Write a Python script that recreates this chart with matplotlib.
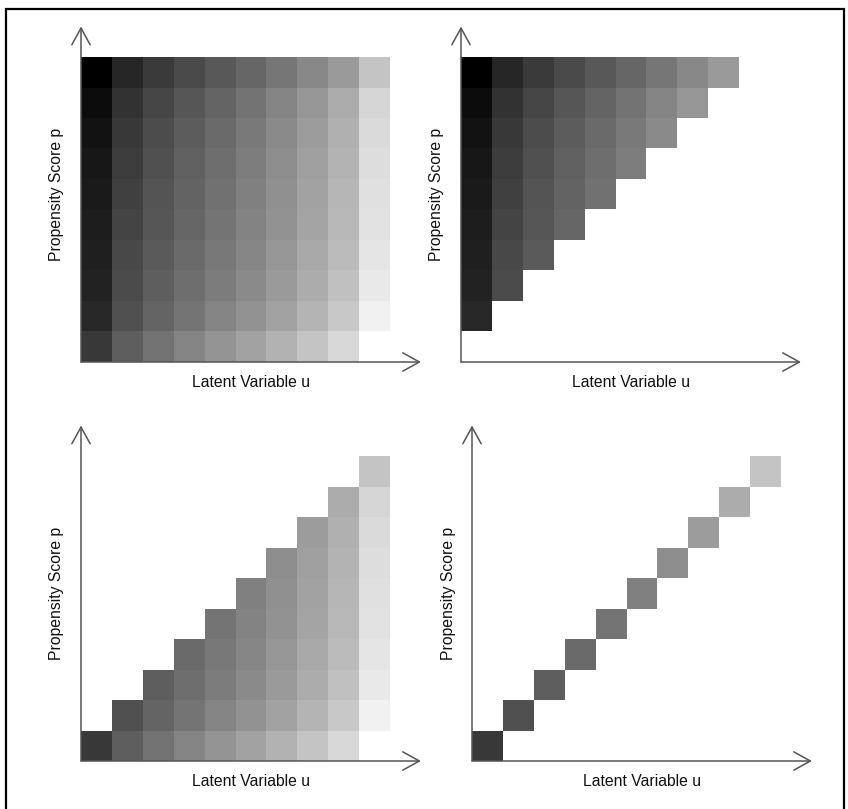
import numpy as np
import matplotlib
matplotlib.use('Agg')
import matplotlib.pyplot as plt
from matplotlib.patches import Rectangle

plt.rcParams['font.family'] = ['Liberation Sans', 'DejaVu Sans']

# grey level (0 = black, 255 = white) of every cell, rows read top -> bottom
grey_rows = [
    [0x00, 0x26, 0x3a, 0x4a, 0x58, 0x66, 0x76, 0x88, 0x9a, 0xc4],
    [0x0c, 0x32, 0x46, 0x56, 0x64, 0x73, 0x84, 0x96, 0xac, 0xd6],
    [0x12, 0x38, 0x4c, 0x5c, 0x6a, 0x79, 0x8a, 0x9c, 0xb0, 0xda],
    [0x17, 0x3c, 0x50, 0x60, 0x6e, 0x7d, 0x8d, 0x9f, 0xb3, 0xdd],
    [0x1a, 0x40, 0x54, 0x63, 0x71, 0x80, 0x90, 0xa2, 0xb6, 0xe0],
    [0x1d, 0x44, 0x56, 0x66, 0x74, 0x83, 0x92, 0xa4, 0xb8, 0xe2],
    [0x1f, 0x48, 0x5a, 0x6a, 0x78, 0x86, 0x96, 0xa8, 0xbb, 0xe5],
    [0x22, 0x4b, 0x5e, 0x6e, 0x7c, 0x8a, 0x9a, 0xac, 0xc0, 0xe9],
    [0x28, 0x50, 0x64, 0x74, 0x84, 0x92, 0xa2, 0xb4, 0xc8, 0xf1],
    [0x38, 0x5e, 0x72, 0x84, 0x94, 0xa2, 0xb2, 0xc4, 0xd8, 0xff],
]
x_label = "Latent Variable u"
y_label = "Propensity Score p"

grey = np.array(grey_rows[::-1], dtype=float)   # row 0 = bottom (low p)
n = grey.shape[0]
p_idx, u_idx = np.indices(grey.shape)

# which cells each panel keeps
panels = {
    'full':  np.ones_like(grey, dtype=bool),
    'upper': u_idx < p_idx,
    'lower': u_idx >= p_idx,
    'diag':  u_idx == p_idx,
}

W, H = 848, 809
fig = plt.figure(figsize=(W / 100, H / 100), dpi=100)

# frame around the whole picture
fig.patches.append(Rectangle((5.5 / W, -0.05), 838 / W, 1.05 - 9.5 / H,
                             transform=fig.transFigure, fill=False,
                             edgecolor='black', linewidth=1.6))

axw, axh = 340, 335.5
layout = [('full', 81, 447), ('upper', 461, 447),
          ('lower', 81, 48), ('diag', 472, 48)]

edges = np.arange(n + 1)
arrow_style = dict(arrowstyle='->,head_length=1.0,head_width=0.55',
                   mutation_scale=12, color='#555555', lw=1.1,
                   shrinkA=0, shrinkB=0)

for key, left, bottom in layout:
    ax = fig.add_axes([left / W, bottom / H, axw / W, axh / H])
    data = np.ma.masked_where(~panels[key], grey)
    ax.pcolormesh(edges, edges, data, cmap='gray', vmin=0, vmax=255,
                  shading='flat')
    ax.set_xlim(0, n + 1)
    ax.set_ylim(0, n + 1)
    ax.axis('off')
    ax.annotate('', xy=(n + 1, 0), xytext=(0, 0), arrowprops=arrow_style,
                annotation_clip=False)
    ax.annotate('', xy=(0, n + 1), xytext=(0, 0), arrowprops=arrow_style,
                annotation_clip=False)
    ax.text(0.5, -20.5 / axh, x_label, transform=ax.transAxes,
            ha='center', va='center', fontsize=11.3, color='#111111')
    ax.text(-24 / axw, 0.5, y_label, transform=ax.transAxes, rotation=90,
            ha='center', va='center', fontsize=11.3, color='#111111')

fig.savefig('out.png', dpi=100)
plt.close(fig)
